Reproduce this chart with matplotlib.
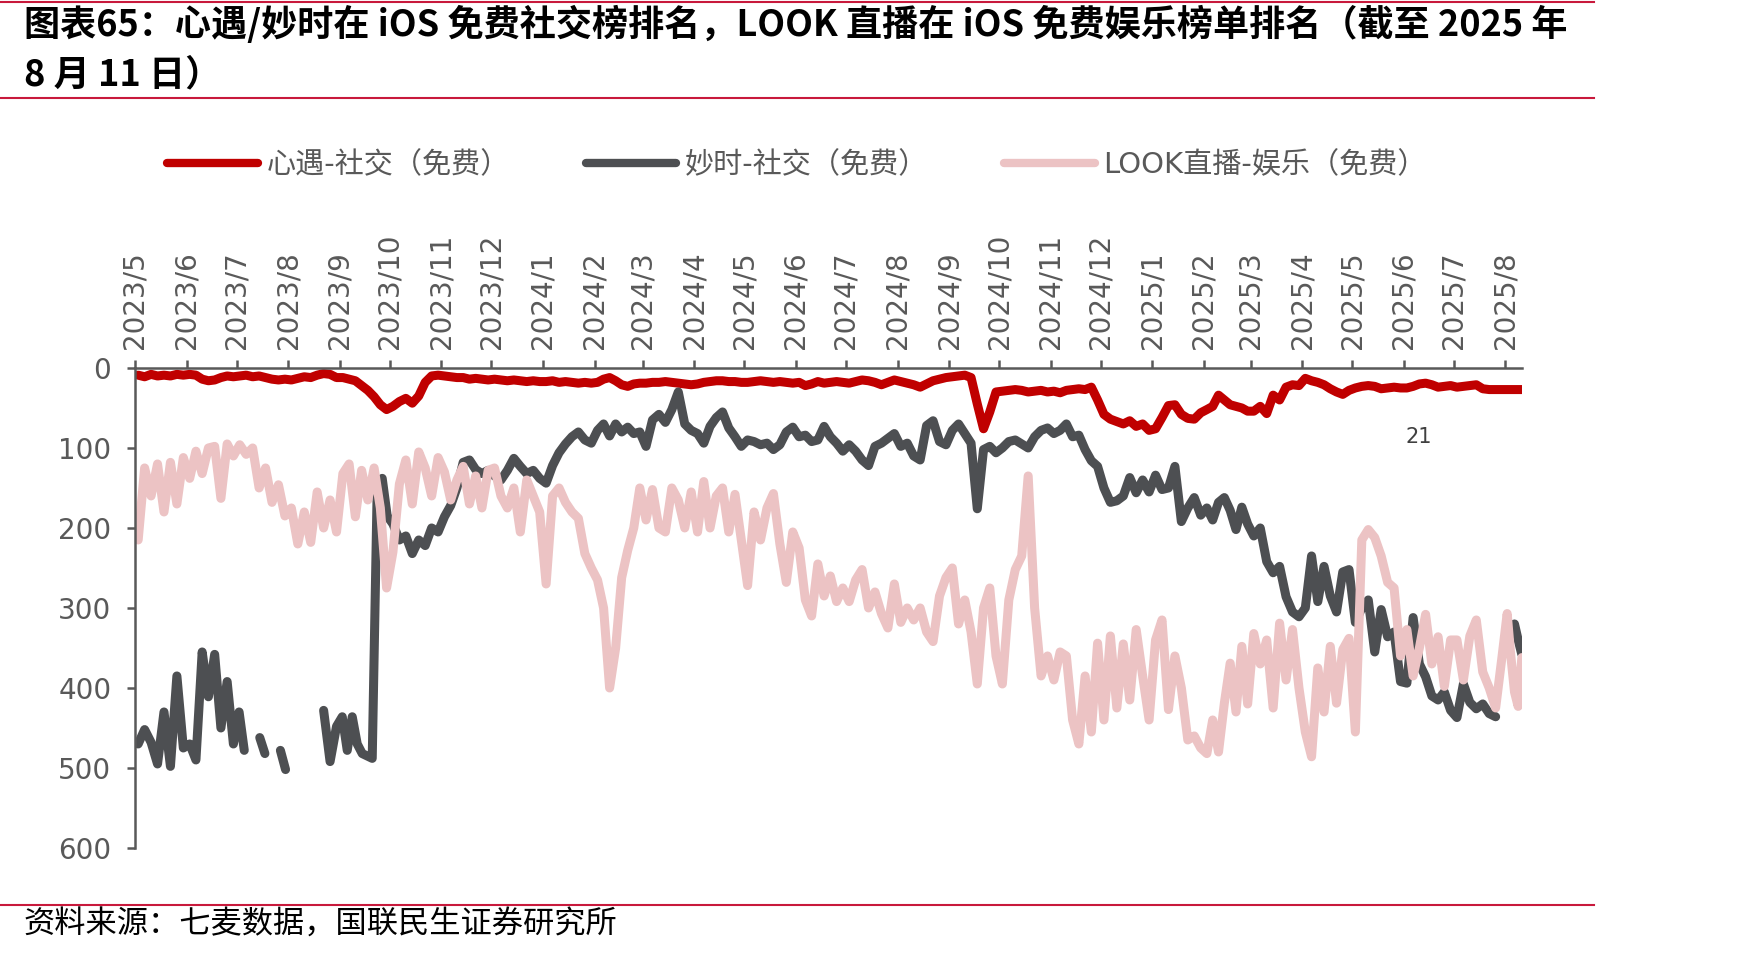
import numpy as np
import pandas as pd
import matplotlib
matplotlib.use('Agg')
import matplotlib.pyplot as plt
from matplotlib.lines import Line2D

plt.rcParams['font.family'] = ['DejaVu Sans', 'Noto Sans CJK SC']

nan = np.nan

# month starts on the date axis; last month runs to 2025/8/11
months = pd.date_range('2023-05-01', '2025-08-01', freq='MS')
end_date = pd.Timestamp('2025-08-12')
tick_labels = [f'{d.year}/{d.month}' for d in months]

series_names = ['心遇-社交（免费）', '妙时-社交（免费）', 'LOOK直播-娱乐（免费）']

# ranks, one list per month
xinyu = [
    [9, 11, 8, 10, 9, 10, 8, 9],
    [8, 9, 14, 16, 15, 12, 10, 11],
    [10, 9, 11, 10, 12, 14, 15, 14],
    [15, 13, 11, 12, 9, 7, 8, 12],
    [12, 14, 16, 22, 28, 36, 46, 52],
    [48, 42, 38, 44, 35, 18, 10, 9],
    [10, 11, 12, 12, 14, 13, 14, 15],
    [14, 15, 16, 15, 16, 17, 16, 17],
    [17, 16, 18, 17, 18, 19, 18, 19],
    [18, 14, 12, 16, 21, 23, 20, 19],
    [19, 18, 18, 17, 18, 19, 20, 21],
    [20, 18, 17, 16, 16, 17, 17, 18],
    [18, 17, 16, 17, 18, 17, 18, 19],
    [18, 22, 20, 17, 19, 18, 17, 18],
    [19, 17, 15, 16, 18, 21, 18, 15],
    [17, 19, 21, 24, 20, 16, 14, 12],
    [11, 10, 9, 12, 45, 76, 55, 30],
    [29, 28, 27, 28, 30, 29, 28, 30],
    [29, 31, 28, 27, 26, 27, 24, 40],
    [58, 64, 67, 70, 66, 73, 70, 78],
    [76, 62, 47, 46, 58, 63, 64, 56],
    [52, 48, 34, 40, 46, 48, 50, 54],
    [54, 48, 57, 34, 40, 24, 21, 22],
    [13, 16, 18, 21, 26, 30, 33, 28],
    [25, 23, 22, 23, 26, 25, 24, 25],
    [25, 23, 20, 19, 21, 24, 23, 22],
    [24, 23, 22, 21, 26, 27, 27, 27],
    [27, 27, 27, 27, 27],
]

miaoshi = [
    [470, 452, 468, 495, 430, 498, 385, 475],
    [470, 490, 355, 411, 358, 450, 392, 470],
    [430, 478, nan, nan, 462, 482, nan, nan, 478, 502],
    [nan, nan, nan, nan, nan, 428, 492, 448],
    [436, 478, 436, 470, 482, 485, 488, 150, 138, 185],
    [195, 215, 210, 232, 215, 222, 200, 205],
    [186, 172, 150, 118, 115, 127, 132, 128],
    [135, 140, 128, 113, 123, 132, 128, 138],
    [144, 122, 106, 95, 86, 80, 90, 94],
    [78, 70, 85, 70, 80, 74, 82, 80],
    [98, 65, 58, 68, 52, 30, 70, 78],
    [82, 94, 73, 62, 55, 75, 86, 98],
    [90, 92, 96, 94, 102, 96, 80, 74],
    [86, 84, 92, 90, 73, 86, 94, 104],
    [96, 104, 115, 122, 98, 94, 88, 82],
    [98, 94, 110, 115, 72, 66, 92, 96],
    [78, 70, 82, 94, 176, 102, 98, 106],
    [100, 92, 90, 95, 100, 86, 78, 75],
    [82, 78, 70, 86, 84, 102, 116, 123],
    [150, 168, 166, 160, 137, 156, 140, 155],
    [134, 152, 150, 123, 192, 175, 162, 184],
    [175, 190, 168, 162, 178, 202, 174, 195],
    [210, 200, 242, 256, 248, 286, 305, 311],
    [300, 235, 292, 248, 285, 305, 255, 252],
    [318, 300, 290, 355, 302, 336, 330, 392],
    [394, 312, 370, 386, 410, 415, 405, 428],
    [437, 395, 418, 426, 420, 432, 436, nan],
    [nan, nan, 320, 340, 358],
]

look = [
    [215, 125, 160, 120, 180, 118, 170, 112],
    [138, 104, 132, 100, 98, 163, 95, 110],
    [96, 108, 100, 150, 125, 168, 146, 185],
    [175, 220, 180, 218, 155, 200, 165, 205],
    [132, 120, 186, 128, 165, 125, 175, 275],
    [230, 145, 115, 170, 105, 125, 160, 112],
    [130, 165, 140, 123, 170, 135, 175, 128],
    [125, 160, 175, 150, 205, 140, 160, 180],
    [270, 160, 150, 168, 180, 188, 232, 250],
    [265, 300, 400, 350, 262, 228, 200, 150],
    [190, 152, 200, 205, 150, 165, 200, 155],
    [205, 142, 200, 160, 150, 205, 158, 215],
    [272, 180, 215, 175, 157, 220, 268, 205],
    [225, 290, 310, 245, 285, 260, 292, 275],
    [292, 265, 252, 300, 280, 307, 325, 270],
    [318, 300, 315, 300, 330, 342, 285, 262],
    [250, 320, 290, 330, 395, 300, 275, 360],
    [395, 290, 252, 235, 135, 300, 385, 360],
    [390, 355, 360, 440, 470, 385, 455, 344],
    [440, 335, 425, 345, 415, 327, 385, 440],
    [340, 315, 427, 360, 400, 465, 460, 475],
    [482, 440, 480, 419, 369, 430, 348, 420],
    [332, 370, 340, 425, 319, 390, 327, 400],
    [455, 486, 375, 430, 348, 419, 352, 338],
    [455, 215, 202, 212, 235, 268, 275, 360],
    [327, 385, 350, 308, 370, 336, 398, 340],
    [340, 390, 335, 315, 380, 400, 425, 360],
    [307, 360, 405, 423, 362],
]

colors = ['#C00000', '#4D4F52', '#ECC3C4']


def expand(monthly):
    # spread each month's readings evenly across that month
    xs, ys = [], []
    for i, vals in enumerate(monthly):
        start = months[i]
        stop = months[i + 1] if i + 1 < len(months) else end_date
        step = (stop - start) / len(vals)
        for j, v in enumerate(vals):
            xs.append(start + step * (j + 0.5))
            ys.append(v)
    return xs, ys


fig = plt.figure(figsize=(17.48, 9.56), dpi=100)
ax = fig.add_axes([0.0772, 0.113, 0.7935, 0.5021])

for data, c in zip([xinyu, miaoshi, look], colors):
    xs, ys = expand(data)
    ax.plot(xs, ys, color=c, lw=6.5, solid_joinstyle='round', solid_capstyle='round')

ax.set_xlim(pd.Timestamp('2023-05-01'), pd.Timestamp('2025-08-11'))
ax.set_ylim(600, 0)
ax.set_yticks(range(0, 601, 100))
ax.set_xticks(months)
ax.set_xticklabels(tick_labels, rotation=90)
ax.xaxis.tick_top()

for s in ['right', 'bottom']:
    ax.spines[s].set_visible(False)
for s in ['left', 'top']:
    ax.spines[s].set_color('#595959')
    ax.spines[s].set_linewidth(1.8)
ax.tick_params(axis='both', colors='#595959', labelsize=20, length=6, width=1.8, direction='out')
ax.tick_params(axis='x', pad=8)
ax.tick_params(axis='y', pad=11)

ax.text(pd.Timestamp('2025-06-10'), 86, '21', fontsize=15, color='#404040', ha='center', va='center')

handles = [Line2D([], [], color=c, lw=6, solid_capstyle='round') for c in colors]
fig.legend(handles, series_names, loc='center', bbox_to_anchor=(0.456, 0.827), ncol=3,
           frameon=False, fontsize=21, handlelength=3.1, handletextpad=0.3,
           columnspacing=2.6, labelcolor='#595959')

title_font = ['Noto Sans CJK SC', 'DejaVu Sans']
fig.text(0.0137, 0.974, '图表65：心遇/妙时在 iOS 免费社交榜排名，LOOK 直播在 iOS 免费娱乐榜单排名（截至 2025 年',
         fontsize=26, fontweight='bold', family=title_font, ha='left', va='center')
fig.text(0.0137, 0.9215, '8 月 11 日）', fontsize=26, fontweight='bold', family=title_font,
         ha='left', va='center')
fig.text(0.0137, 0.0324, '资料来源：七麦数据，国联民生证券研究所', fontsize=22.5,
         family=title_font, ha='left', va='center')

for y in [0.998, 0.8975, 0.0533]:
    fig.add_artist(Line2D([0, 0.912], [y, y], transform=fig.transFigure, color='#C8193C', lw=1.5))

fig.savefig('out.png', dpi=100)
